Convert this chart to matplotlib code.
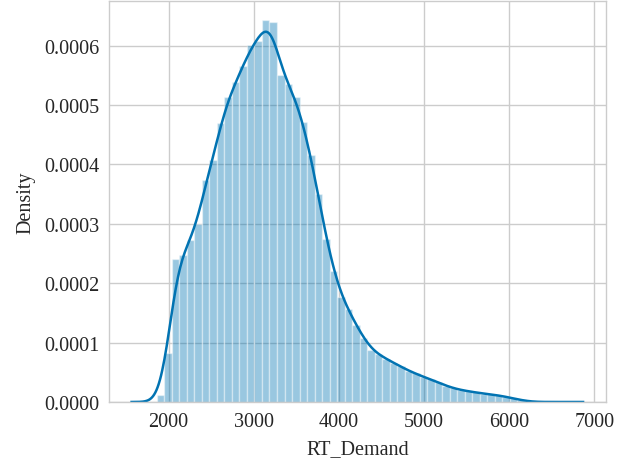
import numpy as np
import matplotlib
matplotlib.use('Agg')
import matplotlib.pyplot as plt
from matplotlib.ticker import FormatStrFormatter

# histogram of RT_Demand: 50 equal bins between the min and max demand
demand_min, demand_max = 1862, 6270
density = [0.11, 0.82, 2.41, 2.48, 2.73, 3.00, 3.74, 4.08, 4.70, 5.13,
           5.38, 5.65, 6.01, 6.08, 6.43, 6.39, 5.51, 5.35, 5.13, 4.72,
           4.15, 3.50, 2.75, 2.21, 1.77, 1.56, 1.30, 1.08, 0.88, 0.80,
           0.73, 0.66, 0.60, 0.52, 0.48, 0.42, 0.38, 0.33, 0.27, 0.23,
           0.20, 0.18, 0.16, 0.14, 0.13, 0.11, 0.09, 0.06, 0.03, 0.01]
density = np.array(density) * 1e-4

# kde support and bandwidth
kde_lo, kde_hi = 1565, 6867
bandwidth = 95

blue = '#0173B2'
plt.rcParams['font.family'] = ['Liberation Serif', 'DejaVu Serif']
plt.rcParams['font.size'] = 14.5

fig = plt.figure(figsize=(6.17, 4.64), dpi=100)
ax = fig.add_axes([0.1767, 0.1315, 0.8053, 0.8642])
ax.set_axisbelow(True)
ax.grid(True, color='#cccccc', linewidth=1.0)
for s in ax.spines.values():
    s.set_color('#cccccc')
    s.set_linewidth(1.0)

edges = np.linspace(demand_min, demand_max, len(density) + 1)
width = edges[1] - edges[0]
ax.bar(edges[:-1], density, width=width, align='edge', color=blue,
       alpha=0.4, edgecolor='white', linewidth=1.0)

# smooth the binned density with a gaussian kernel
centers = edges[:-1] + width / 2
grid = np.linspace(kde_lo, kde_hi, 400)
kern = np.exp(-0.5 * ((grid[:, None] - centers[None, :]) / bandwidth) ** 2)
kde = (kern * density[None, :] * width).sum(axis=1) / (np.sqrt(2 * np.pi) * bandwidth)
ax.plot(grid, kde, color=blue, linewidth=1.8)

ax.set_xlim(1300, 7135)
ax.set_ylim(0, 0.000675)
ax.set_xticks([2000, 3000, 4000, 5000, 6000, 7000])
ax.set_yticks(np.arange(0, 0.00061, 0.0001))
ax.yaxis.set_major_formatter(FormatStrFormatter('%.4f'))
ax.tick_params(length=0, pad=7, colors='#262626')
ax.set_xlabel('RT_Demand', color='#262626', labelpad=6)
ax.set_ylabel('Density', color='#262626', labelpad=6)

fig.savefig('out.png', dpi=100)
